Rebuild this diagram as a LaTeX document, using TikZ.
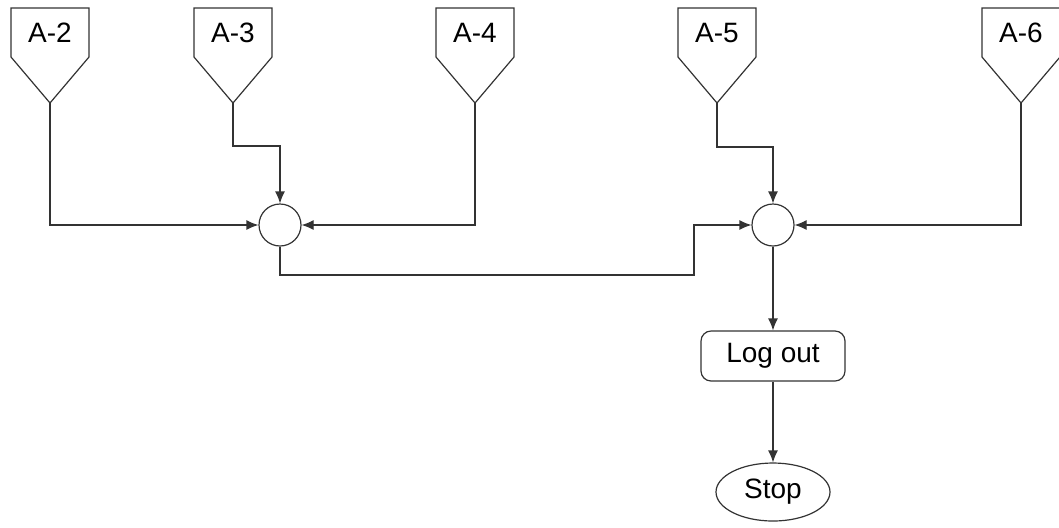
\documentclass[tikz,border=0pt]{standalone}
\usepackage{fontspec}
\setmainfont{Liberation Sans}
\usetikzlibrary{arrows.meta,shapes.geometric}

\tikzset{
	conn/.style={draw=black!80, line width=0.6pt},
	arr/.style={conn, -{Latex[length=6pt,width=5pt]}},
	lbl/.style={font=\fontsize{14}{16}\selectfont},
	junc/.style={conn, circle, minimum size=21pt, inner sep=0pt},
	proc/.style={conn, rounded corners=5pt, minimum width=72pt, minimum height=25pt, font=\fontsize{14}{16}\selectfont},
	term/.style={conn, ellipse, minimum width=57pt, minimum height=29pt, inner sep=0pt, font=\fontsize{14}{16}\selectfont}
}

\begin{document}
\begin{tikzpicture}[x=0.5pt, y=-0.5pt]
		\useasboundingbox (0,0) rectangle (1059,527);
		% off-page connectors
		\foreach \n/\x in {2/50, 3/233, 4/475, 5/717, 6/1021} {
			\draw[conn] (\x-39,8) -- (\x+39,8) -- (\x+39,57) -- (\x,103) -- (\x-39,57) -- cycle;
			\node[lbl] (a\n) at (\x,33) {A-\n};
			\coordinate (t\n) at (\x,103);
		}
		\node[junc] (j1) at (280,225) {};
		\node[junc] (j2) at (773,225) {};
		\node[proc] (logout) at (773,356) {Log out};
		\node[term] (stop) at (773,492) {Stop};
		\coordinate (b3) at (233,146);
		\coordinate (b5) at (717,147);
		\coordinate (b1) at (694,275);
		\draw[arr] (t2) |- (j1);
		\draw[arr] (t3) -- (b3) -| (j1);
		\draw[arr] (t4) |- (j1);
		\draw[arr] (j1) |- (b1) |- (j2);
		\draw[arr] (t5) -- (b5) -| (j2);
		\draw[arr] (t6) |- (j2);
		\draw[arr] (j2) -- (logout);
		\draw[arr] (logout) -- (stop);
	\end{tikzpicture}
\end{document}
